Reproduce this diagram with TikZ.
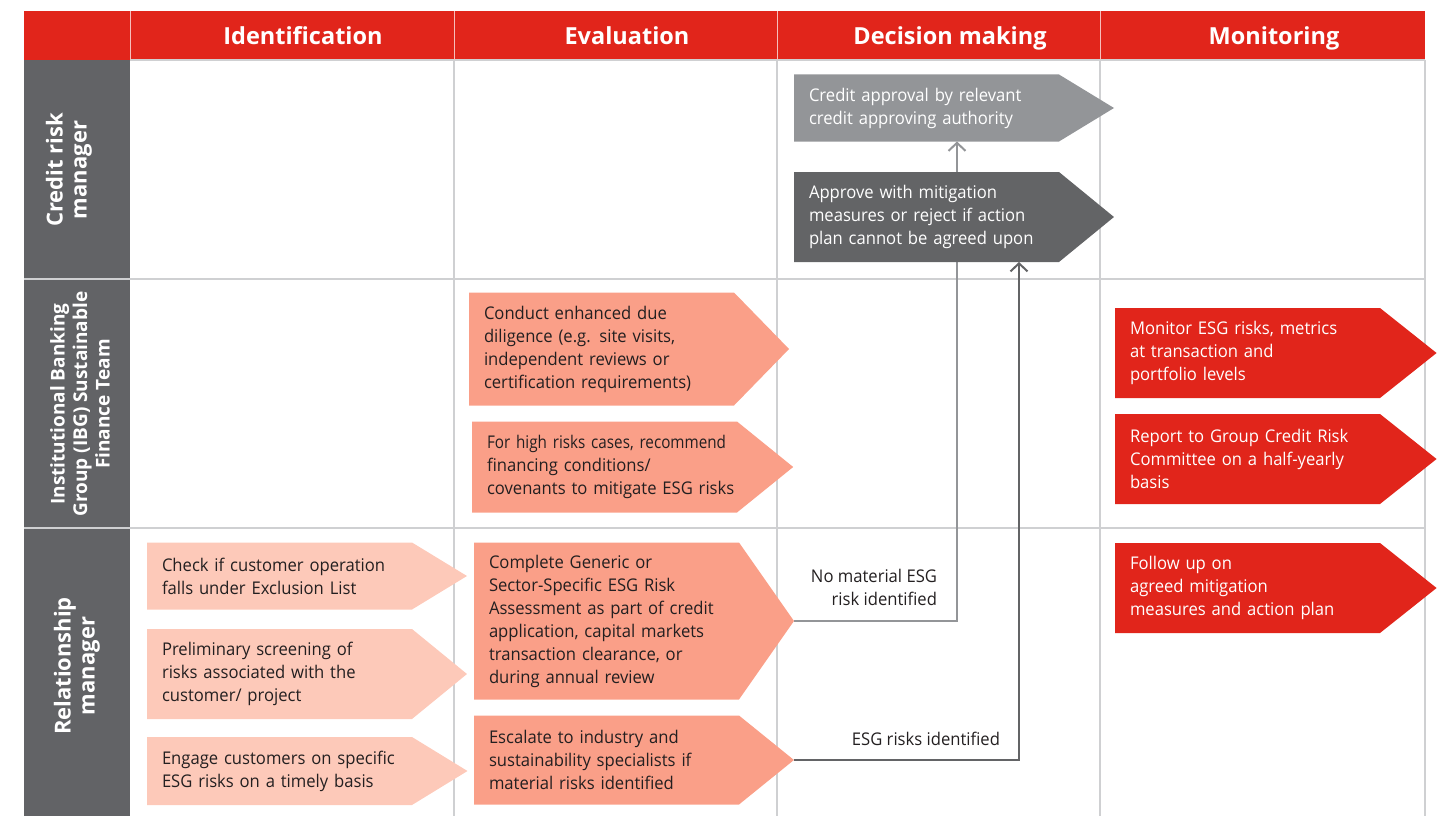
\documentclass[tikz,border=0pt]{standalone}
\usepackage{fontspec}
\setmainfont{Open Sans}
\newfontfamily\bodyfont[FakeStretch=0.95]{Open Sans}
\newfontfamily\narrowfont[FakeStretch=0.87]{Open Sans}
\usetikzlibrary{shapes.symbols,arrows.meta}
\definecolor{hdred}{HTML}{E1251B}
\definecolor{lanegray}{HTML}{626366}
\definecolor{midgray}{HTML}{939598}
\definecolor{deepgray}{HTML}{636466}
\definecolor{salmon}{HTML}{FA9F88}
\definecolor{blush}{HTML}{FDC9B9}
\definecolor{gridgray}{HTML}{CFD0D2}
\definecolor{ink}{HTML}{231F20}
\pgfdeclarelayer{grid}
\pgfdeclarelayer{wires}
\pgfsetlayers{grid,wires,main}
\tikzset{
  stage/.style={signal,signal to=east,fill=#1,anchor=west,inner xsep=15pt,inner ysep=0pt,outer sep=0pt,
    text width=235pt,align=left,font=\bodyfont\fontsize{17.5}{23}\selectfont},
  phase/.style={text=white,anchor=base,font=\bfseries\fontsize{23.5}{28}\selectfont},
  lane/.style={text=white,rotate=90,align=center,font=\bfseries\fontsize{22}{24}\selectfont},
  gridline/.style={gridgray,line width=1.2pt},
  wire/.style={line width=2pt,-{Straight Barb[length=8pt,width=17pt,line width=2pt]}},
  note/.style={text=ink,align=right,inner sep=2pt,font=\bodyfont\fontsize{17.5}{23}\selectfont},
}
\begin{document}
\begin{tikzpicture}[x=1pt,y=-1pt]
\useasboundingbox (0,0) rectangle (1441,816);
\begin{pgfonlayer}{grid}
	\fill[hdred] (24,11) rectangle (1425,60);
	\fill[lanegray] (24,60) rectangle (130,816);
	\foreach \x in {454,777,1100,1425} \draw[gridline] (\x,60) -- (\x,816);
	\foreach \y in {279,528} \draw[gridline] (24,\y) -- (1425,\y);
	\draw[gridline] (130,60) -- (1425,60);
	\foreach \x in {130,454,777,1100} \draw[white!70!hdred,line width=1pt] (\x,11) -- (\x,60);
\end{pgfonlayer}
% phases
\node[phase](ident) at (303,45){Identification};
\node[phase](eval) at (627,45){Evaluation};
\node[phase](decide) at (950,45){Decision making};
\node[phase](monit) at (1274,45){Monitoring};
% lanes
\node[lane](crm) at (69,170){Credit risk\\manager};
\node[lane,font=\bfseries\fontsize{19}{22.5}\selectfont](ibg) at (80,404){Institutional Banking\\Group (IBG) Sustainable\\Finance Team};
\node[lane](rm) at (77,666){Relationship\\manager};
% credit risk manager
\node[stage=midgray,text=white,minimum height=67pt,signal pointer angle=62.7](credit) at (794,108){Credit approval by relevant\\credit approving authority};
\node[stage=deepgray,text=white,minimum height=90pt,signal pointer angle=78.6](approve) at (794,217){Approve with mitigation\\\mbox{measures or reject if action}\\\mbox{plan cannot be agreed upon}};
% sustainable finance team
\node[stage=salmon,text=ink,minimum height=113pt,signal pointer angle=91.5](dilig) at (469,349){Conduct enhanced due\\diligence (e.g. site visits,\\independent reviews or\\\mbox{certification requirements)}};
\node[stage=salmon,text=ink,minimum height=91pt,signal pointer angle=78](highrisk) at (472,467){\mbox{\narrowfont For high risks cases, recommend}\\financing conditions/\\\mbox{covenants to mitigate ESG risks}};
\node[stage=hdred,text=white,minimum height=90pt,signal pointer angle=77](monitor) at (1115,353){\mbox{Monitor ESG risks, metrics}\\at transaction and\\portfolio levels};
\node[stage=hdred,text=white,minimum height=90pt,signal pointer angle=77](report) at (1115,459){\mbox{Report to Group Credit Risk}\\\mbox{Committee on a half-yearly}\\basis};
% relationship manager
\node[stage=blush,text=ink,minimum height=67pt,signal pointer angle=62.7](check) at (147,576){\mbox{Check if customer operation}\\falls under Exclusion List};
\node[stage=blush,text=ink,minimum height=90pt,signal pointer angle=78.6](prelim) at (147,674){Preliminary screening of\\risks associated with the\\customer/ project};
\node[stage=blush,text=ink,minimum height=68pt,signal pointer angle=63](engage) at (147,771){\mbox{Engage customers on specific}\\\mbox{ESG risks on a timely basis}};
\node[stage=salmon,text=ink,minimum height=157pt,signal pointer angle=110](assess) at (474,621){Complete Generic or\\Sector-Specific ESG Risk\\\mbox{Assessment as part of credit}\\\mbox{application, capital markets}\\transaction clearance, or\\during annual review};
\node[stage=salmon,text=ink,minimum height=89pt,signal pointer angle=78](escal) at (474,760){Escalate to industry and\\\mbox{sustainability specialists if}\\material risks identified};
\node[stage=hdred,text=white,minimum height=90pt,signal pointer angle=77](follow) at (1115,588){Follow up on\\agreed mitigation\\\mbox{measures and action plan}};
% outcomes
\begin{pgfonlayer}{wires}
	\draw[wire,midgray] (assess.east) -| node[note,anchor=south east,xshift=-17pt,yshift=12pt]{No material ESG\\risk identified} ([xshift=163pt]credit.west |- credit.south);
	\draw[wire,deepgray] (escal.east) -| node[note,anchor=south east,xshift=-16pt,yshift=11pt]{ESG risks identified} ([xshift=225pt]approve.west |- approve.south);
\end{pgfonlayer}
\end{tikzpicture}
\end{document}
